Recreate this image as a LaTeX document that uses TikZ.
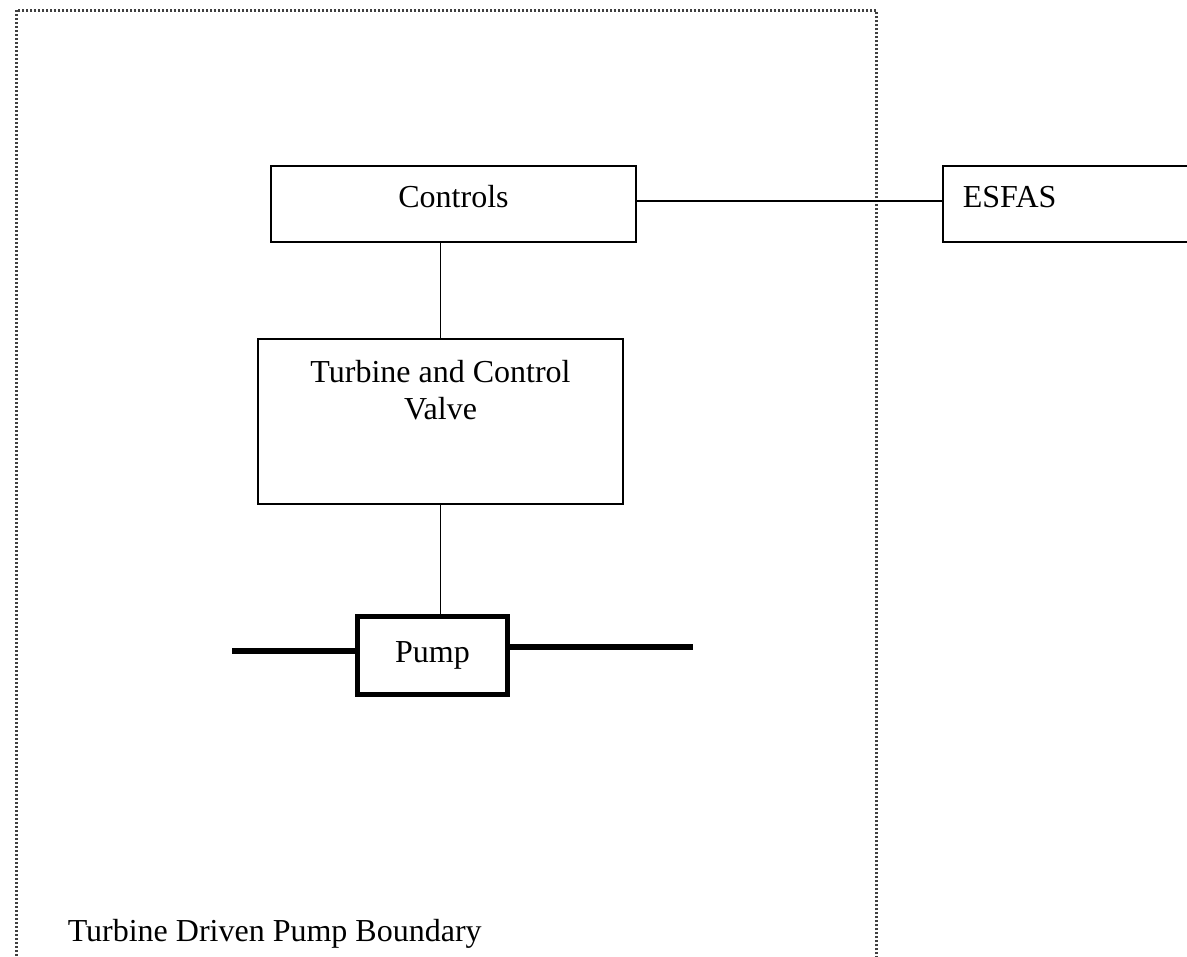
\documentclass[tikz,border=0pt]{standalone}
\usepackage{fontspec}
\setmainfont{Liberation Serif}
\usetikzlibrary{positioning,calc}

\begin{document}
\begin{tikzpicture}
[x=0.5pt, y=-0.5pt, line width=0.75pt,
every node/.style={font=\fontsize{16}{18.5}\selectfont, inner sep=0pt},
block/.style={draw, rectangle, minimum width=182.5pt, text height=20.5pt, text depth=17.5pt},
pumpbox/.style={draw, rectangle, line width=2.75pt, minimum width=75pt, minimum height=39pt},
pipe/.style={line width=2.75pt},
boundary/.style={draw=black!75, line width=1.3pt, dash pattern=on 1pt off 1pt}
]
  \useasboundingbox (0,0) rectangle (1187,957);

  \node[boundary, anchor=north west, minimum width=430pt, minimum height=520pt] (tdpb) at (15,9) {};
  \node[anchor=base west] (tdplabel) at (67,941) {Turbine Driven Pump Boundary};

  \node[block]                      (ctrl)  at (453.5,204)  {Controls};
  \node[block, minimum width=0pt, text width=134pt, inner xsep=10pt, align=left, anchor=west]
                                    (esfas) at (942,204)    {ESFAS};
  \node[block, align=center, text height=40pt, text depth=42.5pt]
                                    (turb)  at (440.5,421.5) {Turbine and Control\\Valve};
  \node[pumpbox]                    (pump)  at (432.5,655.5) {Pump};

  \coordinate (pipein)  at (232,651);
  \coordinate (pipeout) at (693,647);

  \draw ([yshift=1.5pt]ctrl.east) -- ([yshift=1.5pt]ctrl.east -| esfas.west);
  \draw (turb.north) -- (turb.north |- ctrl.south);
  \draw (turb.south) -- (turb.south |- pump.north);
  \draw[pipe] (pipein) -- (pipein -| pump.west);
  \draw[pipe] (pump.east |- pipeout) -- (pipeout);
\end{tikzpicture}
\end{document}
